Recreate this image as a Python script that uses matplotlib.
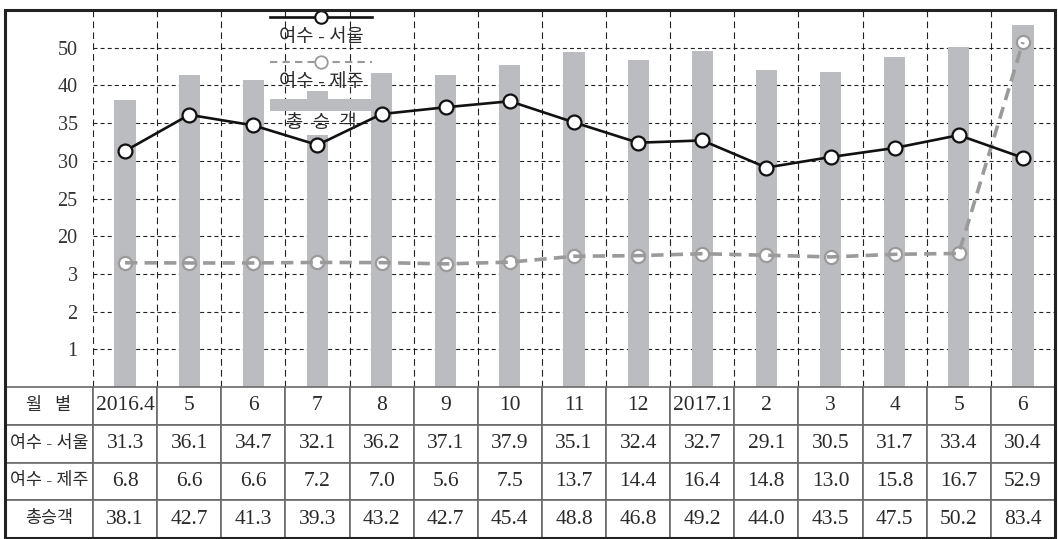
import numpy as np
import matplotlib.pyplot as plt
from matplotlib.patches import Rectangle
from matplotlib.lines import Line2D

plt.rcParams['font.family'] = ['Liberation Serif', 'Noto Sans CJK KR', 'DejaVu Sans']

# data
months = ["2016.4", "5", "6", "7", "8", "9", "10", "11", "12", "2017.1", "2", "3", "4", "5", "6"]
seoul = [31.3, 36.1, 34.7, 32.1, 36.2, 37.1, 37.9, 35.1, 32.4, 32.7, 29.1, 30.5, 31.7, 33.4, 30.4]
jeju = [6.8, 6.6, 6.6, 7.2, 7.0, 5.6, 7.5, 13.7, 14.4, 16.4, 14.8, 13.0, 15.8, 16.7, 52.9]
total = [38.1, 42.7, 41.3, 39.3, 43.2, 42.7, 45.4, 48.8, 46.8, 49.2, 44.0, 43.5, 47.5, 50.2, 83.4]

row_names = ["월   별", "여수 - 서울", "여수 - 제주", "총승객"]
legend_names = ["여수 - 서울", "여수 - 제주", "총  승  객"]
ytick_vals = [1, 2, 3, 20, 25, 30, 35, 40, 50]

# the chart uses a broken (piecewise) value axis
brk_val = [0, 1, 2, 3, 5, 17, 20, 25, 30, 35, 40, 50, 55, 90, 130]
brk_pos = [0, 1, 2, 3, 3.25, 3.55, 4, 5, 6, 7, 8, 9, 9.25, 9.7, 10]


def fwd(v):
	return np.interp(v, brk_val, brk_pos)
#end_def


def inv(p):
	return np.interp(p, brk_pos, brk_val)
#end_def


W = 1058.0
H = 539.0

fig = plt.figure(figsize=(W / 100, H / 100), dpi=100)
fig.patch.set_facecolor("white")

ax = fig.add_axes([93 / W, (H - 387) / H, (1055 - 93) / W, (387 - 10) / H])
ax.set_yscale("function", functions=(fwd, inv))

x = np.arange(len(months))
bar_col = "#bbbcc0"

ax.bar(x, total, width=0.33, color=bar_col, zorder=1)

# seoul line
ax.plot(x, seoul, color="#111111", lw=1.9, marker="o", ms=10, mfc="white",
	mec="#111111", mew=1.6, zorder=4)

# jeju: markers below the dashed line
ax.plot(x, jeju, ls="none", marker="o", ms=9.5, mfc="white", mec="#9a9a9a", mew=1.6, zorder=3)
ax.plot(x, jeju, color="#9a9a9a", lw=2.6, ls=(0, (3.4, 2.0)), zorder=3.5)

ax.set_xlim(-0.5, 14.5)
ax.set_ylim(0, 130)

ax.set_xticks(np.arange(-0.5, 14, 1))
ax.set_yticks(ytick_vals)
ax.set_yticklabels([str(v) for v in ytick_vals])
ax.minorticks_off()
ax.tick_params(axis="x", length=0, labelbottom=False)
ax.tick_params(axis="y", length=0, pad=11, labelsize=14.5, labelcolor="#333333")

ax.set_axisbelow(True)
ax.grid(axis="x", color="#222222", lw=0.8, ls=(0, (6.0, 3.8)))
ax.grid(axis="y", color="#222222", lw=0.8, ls=(0, (3.6, 2.8)))

for s in ax.spines.values():
	s.set_visible(False)
#end_for

# legend (handles stacked above labels)
lx0 = 0.184
lx1 = 0.29
lxc = (lx0 + lx1) / 2.0

ax.add_line(Line2D([lx0, lx1], [0.981, 0.981], transform=ax.transAxes, color="#111111",
	lw=1.9, clip_on=False, zorder=6))
ax.plot([lxc], [0.981], transform=ax.transAxes, marker="o", ms=9, mfc="white",
	mec="#111111", mew=1.5, clip_on=False, zorder=7)
ax.text(lxc, 0.928, legend_names[0], transform=ax.transAxes, ha="center", va="center",
	fontsize=13.5, color="#2a2a2a", zorder=7)

ax.add_line(Line2D([lx0, lx1], [0.862, 0.862], transform=ax.transAxes, color="#9a9a9a",
	lw=1.5, ls=(0, (3.5, 2.5)), clip_on=False, zorder=6))
ax.plot([lxc], [0.862], transform=ax.transAxes, marker="o", ms=9, mfc="white",
	mec="#9a9a9a", mew=1.3, clip_on=False, zorder=7)
ax.text(lxc, 0.809, legend_names[1], transform=ax.transAxes, ha="center", va="center",
	fontsize=13.5, color="#2a2a2a", zorder=7)

ax.add_patch(Rectangle((lx0, 0.733), lx1 - lx0, 0.03, transform=ax.transAxes,
	facecolor=bar_col, edgecolor="none", zorder=2))
# white patch behind the last legend label (covers the bar only)
ax.add_patch(Rectangle((2.55, inv(7.0 - 12 / 37.7)), 0.9, inv(7.0 + 12 / 37.7) - inv(7.0 - 12 / 37.7),
	facecolor="white", edgecolor="none", zorder=1.2))
ax.axhline(35, xmin=(2.55 + 0.5) / 15, xmax=(3.45 + 0.5) / 15, color="#222222", lw=0.8,
	ls=(0, (3.6, 2.8)), zorder=1.3)
ax.text(lxc, 0.700, legend_names[2], transform=ax.transAxes, ha="center", va="center",
	fontsize=13.5, color="#2a2a2a", zorder=7)

# table under the chart
cells = []
cells.append([row_names[0]] + months)
cells.append([row_names[1]] + ["%.1f" % v for v in seoul])
cells.append([row_names[2]] + ["%.1f" % v for v in jeju])
cells.append([row_names[3]] + ["%.1f" % v for v in total])

ax_t = fig.add_axes([5 / W, 1 / H, 1050 / W, 151 / H])
ax_t.axis("off")

col_w = [88 / 1050.0] + [(962 / 15.0) / 1050.0] * 15
tbl = ax_t.table(cellText=cells, colWidths=col_w, cellLoc="center", bbox=[0, 0, 1, 1])
tbl.auto_set_font_size(False)

for (r, c), cell in tbl.get_celld().items():
	cell.set_edgecolor("#6a6a6a")
	cell.set_linewidth(1.2)
	txt = cell.get_text()
	txt.set_color("#2a2a2a")
	if (c == 0):
		txt.set_fontsize(12.5)
	else:
		txt.set_fontsize(15.5)
	#end_if
#end_for

# outer frame
fig.add_artist(Rectangle((5 / W, 1 / H), 1050 / W, 528 / H, transform=fig.transFigure,
	fill=False, lw=2.2, edgecolor="#222222", zorder=10))

fig.savefig("out.png", dpi=100)
